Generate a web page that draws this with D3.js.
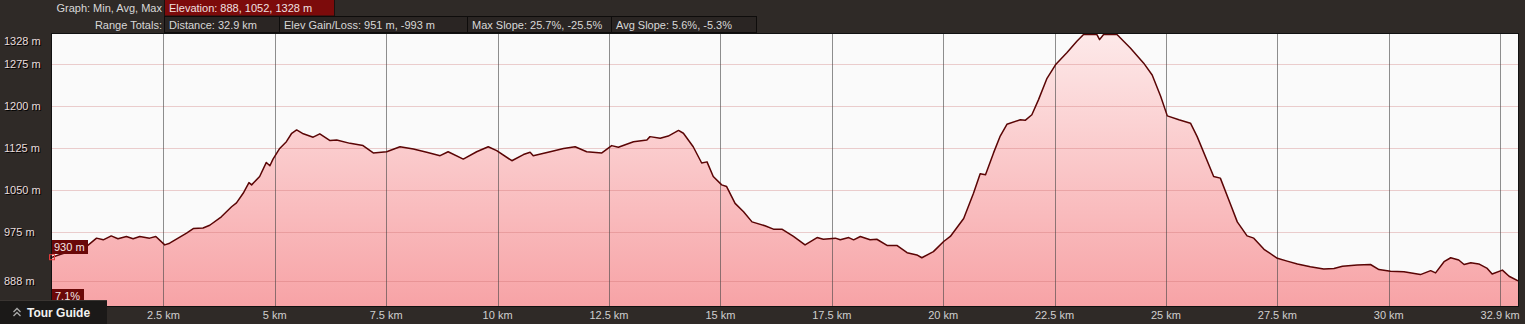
<!DOCTYPE html>
<html>
<head>
<meta charset="utf-8">
<script src="https://cdn.jsdelivr.net/npm/d3@7"></script>
<style>
  html, body { margin: 0; padding: 0; background: #2f2a27; }
  svg { display: block; }
  text { font-family: "Liberation Sans", Arial, sans-serif; }
</style>
</head>
<body>
<div id="chart"></div>
<script>
// elevation profile (km, m)
const distKm = [0, 0.3, 0.6, 0.77, 1.00, 1.15, 1.33, 1.48, 1.67, 1.82, 1.97, 2.19, 2.33, 2.53, 2.64, 2.83,
  3.02, 3.17, 3.39, 3.54, 3.80, 4.03, 4.14, 4.29, 4.42, 4.48, 4.66, 4.81, 4.89, 4.96, 5.11, 5.26,
  5.38, 5.49, 5.64, 5.86, 6.01, 6.24, 6.39, 6.69, 6.98, 7.21, 7.51, 7.81, 8.11, 8.41, 8.71, 8.89,
  9.23, 9.53, 9.79, 9.98, 10.32, 10.58, 10.73, 10.80, 11.18, 11.48, 11.74, 12.00, 12.34, 12.56, 12.71,
  13.05, 13.35, 13.42, 13.65, 13.83, 14.06, 14.17, 14.39, 14.58, 14.70, 14.84, 15.03, 15.14, 15.33,
  15.52, 15.71, 16.00, 16.19, 16.38, 16.64, 16.90, 17.17, 17.31, 17.58, 17.69, 17.88, 17.99, 18.14,
  18.36, 18.51, 18.74, 18.96, 19.19, 19.41, 19.52, 19.78, 20.01, 20.16, 20.46, 20.68, 20.83, 20.95,
  21.13, 21.28, 21.43, 21.73, 21.84, 21.99, 22.14, 22.33, 22.52, 22.78, 23.00, 23.15, 23.45, 23.51,
  23.60, 23.90, 24.20, 24.50, 24.69, 24.88, 25.03, 25.29, 25.55, 25.70, 26.07, 26.22, 26.45, 26.60,
  26.82, 26.97, 27.20, 27.50, 27.72, 27.95, 28.24, 28.54, 28.77, 28.96, 29.29, 29.59, 29.78, 30.04,
  30.34, 30.71, 30.94, 31.05, 31.24, 31.39, 31.57, 31.69, 31.84, 32.02, 32.21, 32.32, 32.55, 32.70, 32.90];
const elevM = [930, 938, 945, 949, 964, 961, 968, 963, 967, 963, 967, 964, 967, 952, 955, 964,
  973, 981, 982, 987, 1002, 1020, 1027, 1044, 1063, 1059, 1074, 1099, 1093, 1105, 1124, 1136,
  1151, 1157, 1150, 1144, 1150, 1138, 1139, 1133, 1129, 1116, 1118, 1127, 1123, 1117, 1111, 1118,
  1105, 1118, 1127, 1120, 1102, 1113, 1117, 1111, 1118, 1124, 1127, 1118, 1116, 1129, 1126,
  1136, 1139, 1145, 1142, 1146, 1156, 1151, 1127, 1098, 1100, 1074, 1059, 1056, 1026,
  1011, 993, 986, 980, 980, 967, 952, 965, 962, 964, 961, 965, 961, 967,
  961, 962, 951, 951, 938, 934, 929, 940, 958, 967, 999, 1044, 1079, 1077,
  1116, 1146, 1167, 1175, 1174, 1184, 1211, 1249, 1273, 1295, 1315, 1327, 1327, 1318,
  1327, 1327, 1303, 1276, 1255, 1217, 1182, 1175, 1169, 1145, 1074, 1071, 1024, 993,
  968, 964, 944, 928, 923, 918, 913, 909, 910, 914, 916, 917, 908, 905,
  904, 899, 906, 902, 922, 929, 925, 917, 920, 918, 910, 900, 907, 896, 888];

const yTickValues = [888, 975, 1050, 1125, 1200, 1275, 1328];
const xTickValues = [2.5, 5, 7.5, 10, 12.5, 15, 17.5, 20, 22.5, 25, 27.5, 30, 32.5];
const xTickLabels = ["2.5 km", "5 km", "7.5 km", "10 km", "12.5 km", "15 km", "17.5 km", "20 km",
  "22.5 km", "25 km", "27.5 km", "30 km", "32.9 km"];

const headerRow1 = ["Elevation: 888, 1052, 1328 m"];
const headerRow2 = ["Distance: 32.9 km", "Elev Gain/Loss: 951 m, -993 m", "Max Slope: 25.7%, -25.5%", "Avg Slope: 5.6%, -5.3%"];
const startLabel = "930 m";
const slopeLabel = "7.1%";

const width = 1525, height = 324;
const plot = { left: 52, right: 1518, top: 34, bottom: 306 };

const x = d3.scaleLinear().domain([0, 32.9]).range([plot.left, plot.right]);
const y = d3.scaleLinear().domain([843, 1328]).range([plot.bottom, plot.top]);

const data = distKm.map((d, i) => ({ d, e: elevM[i] }));

const svg = d3.select("#chart").append("svg")
  .attr("width", width).attr("height", height);

const defs = svg.append("defs");
const grad = defs.append("linearGradient")
  .attr("id", "fillGrad")
  .attr("gradientUnits", "userSpaceOnUse")
  .attr("x1", 0).attr("x2", 0)
  .attr("y1", plot.top).attr("y2", plot.bottom);
grad.append("stop").attr("offset", 0).attr("stop-color", "#fde9e9");
grad.append("stop").attr("offset", 1).attr("stop-color", "#f7a3a6");

defs.append("clipPath").attr("id", "plotClip")
  .append("rect")
  .attr("x", plot.left).attr("y", plot.top)
  .attr("width", plot.right - plot.left).attr("height", plot.bottom - plot.top);

// background
svg.append("rect").attr("width", width).attr("height", height).attr("fill", "#2f2a27");

// plot area
svg.append("rect")
  .attr("x", plot.left).attr("y", plot.top)
  .attr("width", plot.right - plot.left).attr("height", plot.bottom - plot.top)
  .attr("fill", "#fafafa");

const g = svg.append("g").attr("clip-path", "url(#plotClip)");

// elevation area
g.append("path")
  .datum(data)
  .attr("fill", "url(#fillGrad)")
  .attr("d", d3.area().x(p => x(p.d)).y0(plot.bottom).y1(p => y(p.e)));

// grid on top of the fill
g.selectAll(".hgrid")
  .data(yTickValues.slice(0, -1))
  .enter().append("line")
  .attr("x1", plot.left).attr("x2", plot.right)
  .attr("y1", d => Math.round(y(d)) + 0.5).attr("y2", d => Math.round(y(d)) + 0.5)
  .attr("stroke", "#c86464").attr("stroke-opacity", 0.3);

g.selectAll(".vgrid")
  .data(xTickValues)
  .enter().append("line")
  .attr("x1", d => Math.round(x(d)) + 0.5).attr("x2", d => Math.round(x(d)) + 0.5)
  .attr("y1", plot.top).attr("y2", plot.bottom)
  .attr("stroke", "#444").attr("stroke-opacity", 0.6);

// profile line
g.append("path")
  .datum(data)
  .attr("fill", "none")
  .attr("stroke", "#5a0505")
  .attr("stroke-width", 1.5)
  .attr("stroke-linejoin", "round")
  .attr("d", d3.line().x(p => x(p.d)).y(p => y(p.e)));

// plot border
svg.append("rect")
  .attr("x", plot.left - 0.5).attr("y", plot.top - 0.5)
  .attr("width", plot.right - plot.left + 1).attr("height", plot.bottom - plot.top + 1)
  .attr("fill", "none").attr("stroke", "#111");

// y labels
svg.selectAll(".ylab")
  .data(yTickValues)
  .enter().append("text")
  .attr("x", 4)
  .attr("y", d => Math.max(y(d), plot.top + 7) + 4)
  .attr("font-size", 11)
  .attr("fill", "#e8dcdc")
  .style("text-shadow", "1px 1px 0 #000")
  .text(d => d + " m");

// x labels
svg.selectAll(".xlab")
  .data(xTickValues)
  .enter().append("text")
  .attr("x", d => x(d))
  .attr("y", 319)
  .attr("text-anchor", "middle")
  .attr("font-size", 11)
  .attr("fill", "#cfcfcf")
  .text((d, i) => xTickLabels[i]);

// header
const header = svg.append("g");
header.append("text").attr("x", 162).attr("y", 12).attr("text-anchor", "end")
  .attr("font-size", 11).attr("fill", "#d8d8d8").text("Graph: Min, Avg, Max");
header.append("text").attr("x", 162).attr("y", 29).attr("text-anchor", "end")
  .attr("font-size", 11).attr("fill", "#d8d8d8").text("Range Totals:");

header.append("rect").attr("x", 164.5).attr("y", -0.5).attr("width", 170).attr("height", 16.5)
  .attr("fill", "#7c0b0b").attr("stroke", "#1a1210");
header.append("text").attr("x", 169).attr("y", 12).attr("font-size", 11)
  .attr("fill", "#f0e0e0").text(headerRow1[0]);

const boxEdges = [164.5, 279.5, 467.5, 611.5, 756.5];
headerRow2.forEach((t, i) => {
  header.append("rect")
    .attr("x", boxEdges[i]).attr("y", 16.5)
    .attr("width", boxEdges[i + 1] - boxEdges[i]).attr("height", 16)
    .attr("fill", "#2a2523").attr("stroke", "#0e0c0b");
  header.append("text").attr("x", boxEdges[i] + 4.5).attr("y", 29)
    .attr("font-size", 11).attr("fill", "#d8d8d8").text(t);
});

// start elevation badge + marker
svg.append("rect").attr("x", 52).attr("y", 240).attr("width", 36).attr("height", 14)
  .attr("fill", "#6a0808");
svg.append("text").attr("x", 54).attr("y", 251).attr("font-size", 11)
  .attr("fill", "#f4e6e6").text(startLabel);
svg.append("rect").attr("x", x(0) - 2.5).attr("y", y(elevM[0]) - 2.5)
  .attr("width", 5).attr("height", 5)
  .attr("fill", "none").attr("stroke", "#e23b3b");

// slope badge
svg.append("rect").attr("x", 52).attr("y", 289).attr("width", 32).attr("height", 14)
  .attr("fill", "#6a0808");
svg.append("text").attr("x", 55).attr("y", 300).attr("font-size", 11)
  .attr("fill", "#f4e6e6").text(slopeLabel);

// tour guide tab
svg.append("rect").attr("x", 0).attr("y", 300).attr("width", 107).attr("height", 24)
  .attr("fill", "#1b1918");
svg.append("line").attr("x1", 0).attr("x2", 107).attr("y1", 300.5).attr("y2", 300.5)
  .attr("stroke", "#3a3532");
svg.append("path")
  .attr("d", "M13.5,312 L17,308.5 L20.5,312 M13.5,316 L17,312.5 L20.5,316")
  .attr("fill", "none").attr("stroke", "#aaa").attr("stroke-width", 1.3);
svg.append("text").attr("x", 27).attr("y", 317).attr("font-size", 12)
  .attr("font-weight", "bold").attr("fill", "#f2f2f2").text("Tour Guide");
</script>
</body>
</html>
